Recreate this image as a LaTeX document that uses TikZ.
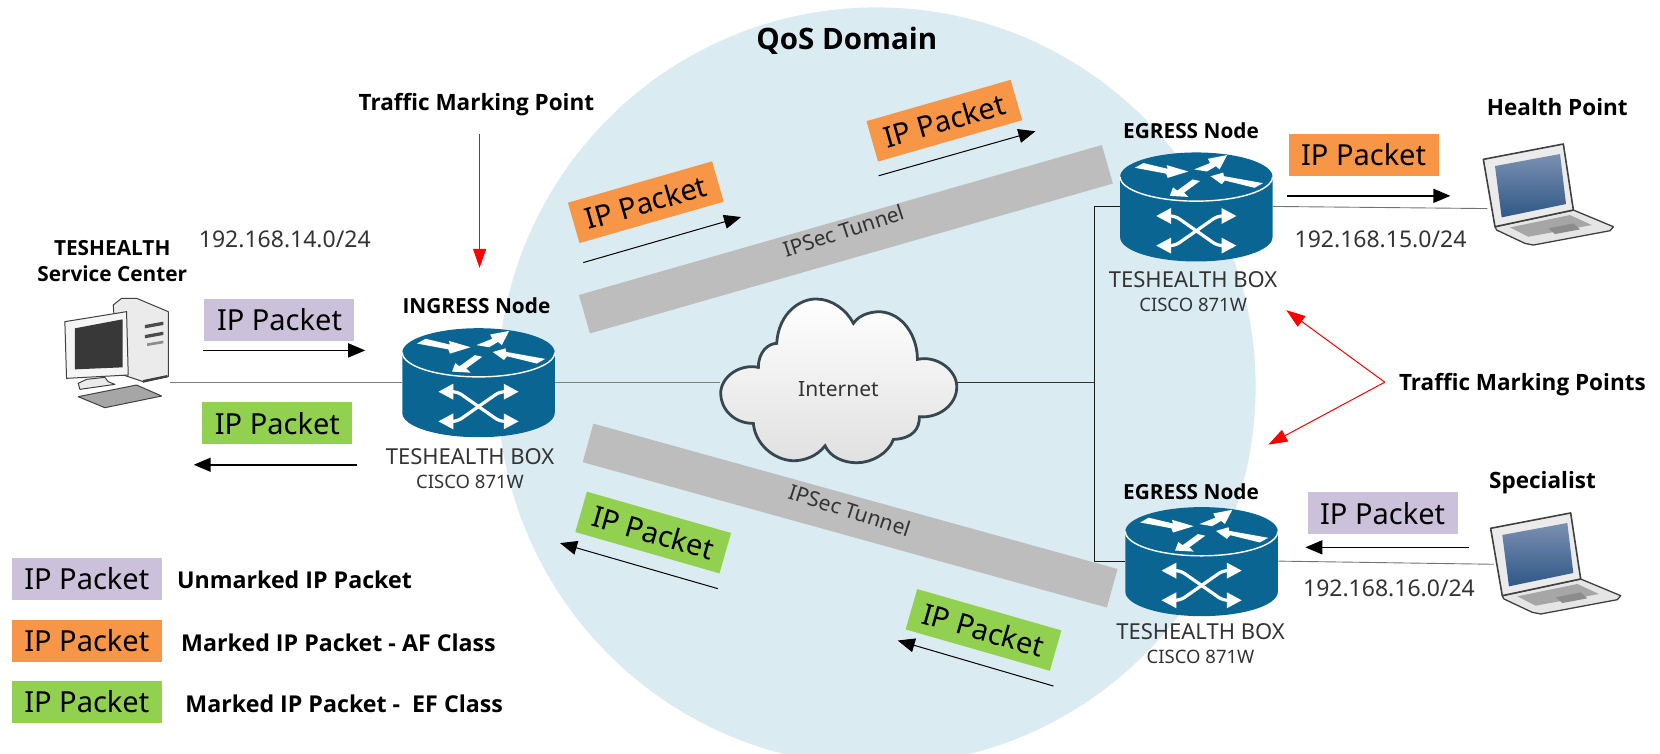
\documentclass[tikz,border=0pt]{standalone}
\usepackage{fontspec}
\setmainfont{Noto Sans}
\newfontfamily\titlefont{Open Sans}
\usepackage{xcolor}
\usepackage{tikz}
\usetikzlibrary{arrows.meta}

\definecolor{domainblue}{HTML}{DAEBF2}
\definecolor{routerblue}{HTML}{0B6593}
\definecolor{unmarked}{HTML}{CCC1DA}
\definecolor{afclass}{HTML}{F79646}
\definecolor{efclass}{HTML}{92D050}
\definecolor{tunnelgrey}{HTML}{BDBDBD}
\definecolor{textgrey}{HTML}{333333}
\definecolor{screentop}{HTML}{7A90B0}
\definecolor{screenbottom}{HTML}{2F5787}
\definecolor{cloudline}{HTML}{37474F}

\tikzset{
    packet/.style={inner sep=0pt, minimum width=150pt, minimum height=42pt, text=black, font=\fontsize{29}{32}\selectfont},
    tunnel/.style={fill=tunnelgrey, inner sep=0pt, minimum width=544pt, minimum height=40pt},
    tunnelname/.style={inner sep=0pt, text=textgrey, font=\fontsize{21}{24}\selectfont},
    title/.style={inner sep=0pt, align=center, font=\titlefont\bfseries\fontsize{22.5}{25}\selectfont},
    nodetitle/.style={title, font=\titlefont\bfseries\fontsize{20.8}{25}\selectfont},
    legendtext/.style={title, anchor=west, font=\titlefont\bfseries\fontsize{23.2}{25}\selectfont},
    subnet/.style={inner sep=0pt, text=textgrey, font=\fontsize{23}{25}\selectfont},
    boxname/.style={inner sep=0pt, text=textgrey, font=\fontsize{22}{25}\selectfont},
    boxmodel/.style={inner sep=0pt, text=textgrey, font=\fontsize{18.5}{22}\selectfont},
    hotspot/.style={inner sep=0pt, minimum height=2pt},
    flow/.style={line width=1.5pt, -{Triangle[length=17pt,width=14pt]}},
    markline/.style={red, line width=1pt, -{Triangle[length=19pt,width=13pt]}},
    router/.pic={
        \fill[routerblue] (-72,-28) arc[x radius=72, y radius=23, start angle=180, end angle=360]
            -- (72,29) arc[x radius=72, y radius=23, start angle=0, end angle=180] -- cycle;
        \draw[white, line width=1.4pt] (-72,-28) arc[x radius=72, y radius=23, start angle=180, end angle=0];
        % arrows on the lid
        \fill[white] (-58,-36.5) -- (-50,-41) -- (-27,-35.5) -- (-28,-39) -- (-7.5,-33) -- (-27,-27) -- (-28.6,-31) -- cycle;
        \fill[white] (-2,-35) -- (13,-41) -- (11,-45) -- (29,-48.5) -- (22,-35) -- (18.5,-38) -- (10,-33) -- cycle;
        \fill[white] (13.5,-28.5) -- (25.5,-32) -- (26,-28.6) -- (63,-22) -- (55,-17.6) -- (27,-24.5) -- (24,-21) -- cycle;
        \fill[white] (-25,-10) -- (-22,-18) -- (-18,-15) -- (-3.5,-25.5) -- (3.5,-24) -- (-11.6,-13) -- (-7.5,-9) -- cycle;
        % crossed arrows on the side
        \draw[white, line width=3.2pt, rounded corners=5pt, {Triangle[length=15pt,width=15pt]}-{Triangle[length=15pt,width=15pt]}] (-38,9) -- (-20,9) -- (20,37) -- (38,37);
        \draw[white, line width=3.2pt, rounded corners=5pt, {Triangle[length=15pt,width=15pt]}-{Triangle[length=15pt,width=15pt]}] (-38,37) -- (-20,37) -- (20,9) -- (38,9);
    },
    laptop/.pic={
        \filldraw[draw=black!75, fill=black!10, line width=1.3pt, line join=round] (75,290) -- (310,240) -- (430,290) -- (420,302) -- (190,345) -- (165,340) -- (80,300) -- cycle;
        \fill[black!35] (120,292) -- (300,255) -- (365,285) -- (175,320) -- cycle;
        \fill[black!45] (235,295) -- (310,280) -- (330,298) -- (255,312) -- cycle;
        \filldraw[draw=black!75, fill=blue!5!black!8, line width=1.6pt, line join=round] (40,88) -- (280,42) -- (310,240) -- (75,290) -- cycle;
        \path[top color=screentop, bottom color=screenbottom] (75,108) -- (270,72) -- (288,222) -- (95,262) -- cycle;
    }
}

\begin{document}
\begin{tikzpicture}[x=1.0587pt, y=-1.0587pt]
    \useasboundingbox (0,0) rectangle (1568,712);

    % QoS domain
    \begin{scope}
        \clip (0,0) rectangle (1568,712);
        \fill[domainblue] (828,365) circle[radius=358];
    \end{scope}
    \node[title, font=\titlefont\bfseries\fontsize{29.5}{32}\selectfont] (qos) at (800,39) {QoS Domain};

    % Tunnels
    \node[tunnel, rotate=16] (tunnelup) at (799,226) {};
    \node[tunnel, rotate=-15.5] (tunneldown) at (803,487) {};
    \node[tunnelname, rotate=18] (tunnelupname) at (797,218) {IPSec Tunnel};
    \node[tunnelname, rotate=-18] (tunneldownname) at (803,482) {IPSec Tunnel};

    % Anchors of the routers, the hosts and the cloud
    \node[hotspot, minimum width=153pt] (ingress) at (452,361) {};
    \node[hotspot, minimum width=153pt] (egressup) at (1130,195) {};
    \node[hotspot, minimum width=153pt] (egressdown) at (1135,530) {};
    \node[hotspot, minimum width=237pt] (internet) at (792,361) {};
    \node[hotspot, minimum width=104pt] (center) at (111,361) {};
    \node[hotspot, minimum width=116pt] (healthpoint) at (1460,197) {};
    \node[hotspot, minimum width=116pt] (specialist) at (1466,533) {};
    \coordinate (junction) at (1034,361);

    % Links
    \draw[black!50, line width=0.9pt] (center.east) -- (ingress.west);
    \draw[black!50, line width=0.9pt] (ingress.east) -- (internet.west);
    \draw[black!80, line width=1pt] (internet.east) -- (junction);
    \draw[black!90, line width=1pt] (egressup.west) -| (junction);
    \draw[black!90, line width=1pt] (egressdown.west) -| (junction);
    \draw[black!55, line width=0.9pt] (egressup.east) -- (healthpoint.west);
    \draw[black!55, line width=0.9pt] (egressdown.east) -- (specialist.west);

    % Routers
    \pic at (ingress) {router};
    \pic at (egressup) {router};
    \pic at (egressdown) {router};
    \node[nodetitle] (ingresstitle) at (450,289) {INGRESS Node};
    \node[nodetitle] (egressuptitle) at (1125,123) {EGRESS Node};
    \node[nodetitle] (egressdowntitle) at (1125,464) {EGRESS Node};
    \node[boxname] (ingressname) at (444,431) {TESHEALTH BOX};
    \node[boxmodel] (ingressmodel) at (444,455) {CISCO 871W};
    \node[boxname] (egressupname) at (1127,264) {TESHEALTH BOX};
    \node[boxmodel] (egressupmodel) at (1127,288) {CISCO 871W};
    \node[boxname] (egressdownname) at (1134,597) {TESHEALTH BOX};
    \node[boxmodel] (egressdownmodel) at (1134,620) {CISCO 871W};

    % Internet cloud
    \begin{scope}[shift={(642.3,264.5)}, scale=0.315]
        \path[draw=cloudline, line width=2.8pt, top color=white, bottom color=black!12]
            (235,262) .. controls (235,215) and (265,190) .. (290,190)
            .. controls (295,100) and (360,55) .. (410,57)
            .. controls (455,57) and (500,90) .. (520,130)
            .. controls (540,100) and (580,95) .. (600,95)
            .. controls (670,100) and (712,170) .. (712,238)
            .. controls (770,225) and (830,270) .. (830,320)
            .. controls (830,375) and (775,415) .. (718,410)
            .. controls (718,445) and (700,475) .. (640,478)
            .. controls (625,520) and (575,548) .. (530,548)
            .. controls (490,548) and (450,530) .. (435,497)
            .. controls (410,530) and (370,542) .. (340,542)
            .. controls (280,540) and (225,490) .. (220,430)
            .. controls (160,430) and (122,385) .. (122,340)
            .. controls (122,290) and (180,250) .. (235,262) -- cycle;
    \end{scope}
    \node[boxmodel, font=\fontsize{21}{24}\selectfont] (internetname) at (792,368) {Internet};

    % Service center computer
    \begin{scope}[shift={(40.8,273.9)}, scale=0.315, draw=black!75, line join=round, line width=1pt]
        \filldraw[fill=black!8] (210,45) -- (235,25) -- (280,25) -- (375,65) -- (375,260) -- (300,275) -- (225,250) -- cycle;
        \fill[black!75] (300,270) -- (372,255) -- (372,262) -- (300,278) -- cycle;
        \fill[black!70] (305,105) -- (360,95) -- (360,105) -- (305,115) -- cycle;
        \fill[black!70] (305,135) -- (360,125) -- (360,135) -- (305,145) -- cycle;
        \fill[black!45] (312,160) -- (360,152) -- (360,160) -- (312,168) -- cycle;
        \filldraw[fill=black!8] (130,268) -- (185,262) -- (195,275) -- (215,283) -- (110,298) -- (105,280) -- cycle;
        \filldraw[fill=black!4] (65,95) -- (250,65) -- (255,255) -- (70,265) -- cycle;
        \fill[black!78] (95,115) -- (238,88) -- (238,232) -- (95,238) -- cycle;
        \filldraw[fill=black!35] (105,320) -- (280,285) -- (355,318) -- (185,353) -- cycle;
    \end{scope}
    \node[nodetitle] (centertitle) at (106,247) {TESHEALTH\\[1pt]Service Center};
    \node[subnet] (subnetcenter) at (269,226) {192.168.14.0/24};

    % Laptops
    \pic[shift={(1388.5,122.8)}, scale=0.315] at (0,0) {laptop};
    \pic[shift={(1395.4,471.3)}, scale=0.315] at (0,0) {laptop};
    \node[title] (healthtitle) at (1471,101) {Health Point};
    \node[title] (specialisttitle) at (1457,456) {Specialist};
    \node[subnet] (subnethealth) at (1304,226) {192.168.15.0/24};
    \node[subnet] (subnetspecialist) at (1312,556) {192.168.16.0/24};

    % Packets on the access links
    \node[packet, fill=unmarked] (packetin) at (264,302) {IP Packet};
    \node[packet, fill=efclass] (packetout) at (262,400) {IP Packet};
    \node[packet, fill=afclass] (packethealth) at (1288,146) {IP Packet};
    \node[packet, fill=unmarked] (packetspecialist) at (1306,485) {IP Packet};

    % Packets in the domain
    \node[packet, fill=afclass, rotate=16] (packetafone) at (610,191) {IP Packet};
    \node[packet, fill=afclass, rotate=16] (packetaftwo) at (892,114) {IP Packet};
    \node[packet, fill=efclass, rotate=-16] (packetefone) at (617,503) {IP Packet};
    \node[packet, fill=efclass, rotate=-16] (packeteftwo) at (929,595) {IP Packet};

    % Flow arrows
    \coordinate (inA) at (192,331);
    \coordinate (inB) at (345,331);
    \coordinate (outA) at (337,439);
    \coordinate (outB) at (183,439);
    \coordinate (healthA) at (1216,185);
    \coordinate (healthB) at (1370,185);
    \coordinate (specA) at (1388,517);
    \coordinate (specB) at (1233,517);
    \coordinate (afoneA) at (551,248);
    \coordinate (afoneB) at (700,205);
    \coordinate (aftwoA) at (830,166);
    \coordinate (aftwoB) at (978,124);
    \coordinate (efoneA) at (678,556);
    \coordinate (efoneB) at (529,513);
    \coordinate (eftwoA) at (995,648);
    \coordinate (eftwoB) at (848,605);
    \draw[flow] (inA) -- (inB);
    \draw[flow] (outA) -- (outB);
    \draw[flow] (healthA) -- (healthB);
    \draw[flow] (specA) -- (specB);
    \draw[flow, line width=1pt] (afoneA) -- (afoneB);
    \draw[flow, line width=1pt] (aftwoA) -- (aftwoB);
    \draw[flow, line width=1pt] (efoneA) -- (efoneB);
    \draw[flow, line width=1pt] (eftwoA) -- (eftwoB);

    % Traffic marking
    \node[title] (markpoint) at (450,99) {Traffic Marking Point};
    \coordinate (marktop) at (453,127);
    \coordinate (markin) at (453,253);
    \draw[markline] (marktop) -- (markin);
    \node[title] (markpoints) at (1438,363) {Traffic Marking Points};
    \coordinate (markfork) at (1308,361);
    \coordinate (markup) at (1215,293);
    \coordinate (markdown) at (1198,420);
    \draw[markline] (markfork) -- (markup);
    \draw[markline] (markfork) -- (markdown);

    % Legend
    \node[packet, fill=unmarked] (legendunmarked) at (82,547) {IP Packet};
    \node[packet, fill=afclass] (legendaf) at (82,605) {IP Packet};
    \node[packet, fill=efclass] (legendef) at (82,663) {IP Packet};
    \node[legendtext] (textunmarked) at (167,548) {Unmarked IP Packet};
    \node[legendtext] (textaf) at (171,607) {Marked IP Packet - AF Class};
    \node[legendtext] (textef) at (175,665) {Marked IP Packet -\ \ EF Class};
\end{tikzpicture}
\end{document}
